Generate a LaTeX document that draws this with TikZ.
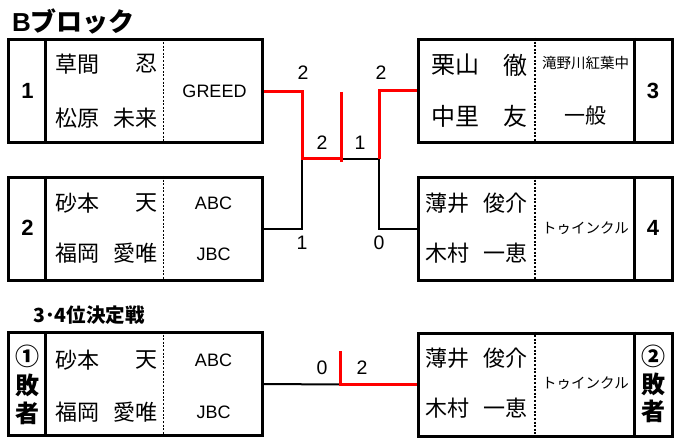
\documentclass[tikz,border=0pt]{standalone}
\usepackage{fontspec}
\setmainfont{Liberation Sans}
\newfontfamily\jp{Noto Sans CJK JP}
\begin{document}
\begin{tikzpicture}[x=1pt,y=-1pt,
  box/.style={draw, line width=3pt, minimum width=254pt, minimum height=103pt, inner sep=0pt},
  sepline/.style={line width=3pt},
  dotline/.style={line width=1.3pt, dash pattern=on 2pt off 1.6pt},
  nm/.style={inner sep=0pt, font=\jp\fontsize{22}{22}\selectfont},
  nmbig/.style={inner sep=0pt, font=\jp\fontsize{24}{24}\selectfont},
  tm/.style={inner sep=0pt, font=\fontsize{18}{18}\selectfont},
  tmjp/.style={inner sep=0pt, font=\jp\fontsize{14.5}{14.5}\selectfont},
  num/.style={inner sep=0pt, font=\bfseries\fontsize{22}{22}\selectfont},
  loser/.style={inner sep=0pt, font=\jp\bfseries\fontsize{24}{24}\selectfont},
  score/.style={inner sep=0pt, font=\fontsize{19.5}{19.5}\selectfont},
  win/.style={draw=red, line width=3pt},
  lose/.style={draw=black, line width=2pt}]
\useasboundingbox (0,0) rectangle (682,438);
\fill[white] (0,0) rectangle (682,438);

% titles
\node[anchor=west, inner sep=0pt, font=\bfseries\fontsize{26}{26}\selectfont] (title) at (12,21) {B{\jp\bfseries ブロック}};
\node[anchor=west, inner sep=0pt, font=\jp\bfseries\fontsize{19.5}{19.5}\selectfont] (title2) at (33,315) {3･4位決定戦};

% boxes
\node[box] (b1) at (135,91.5) {};
\node[box] (b2) at (135,229) {};
\node[box] (b3) at (545.5,91) {};
\node[box] (b4) at (545.5,229) {};
\node[box] (b5) at (135,384) {};
\node[box] (b6) at (545.5,384.5) {};

% dividers
\foreach \b in {b1,b2,b5}{
  \draw[sepline] (\b.north west) ++(39,0) coordinate (\b sa) -- (\b.south west -| \b sa);
  \draw[dotline] (\b.north west) ++(157,0) coordinate (\b sb) -- (\b.south west -| \b sb);
}
\foreach \b in {b3,b4,b6}{
  \draw[sepline] (\b.north east) ++(-40,0) coordinate (\b sa) -- (\b.south east -| \b sa);
  \draw[dotline] (\b.north west) ++(118,0) coordinate (\b sb) -- (\b.south west -| \b sb);
}

% box 1
\node[num] (k1) at (27.5,91) {1};
\node[nm, anchor=west] (n1a) at (55,64) {草間};
\node[nm, anchor=east] (n1b) at (158,64) {忍};
\node[nm, anchor=west] (n1c) at (55,118) {松原};
\node[nm, anchor=east] (n1d) at (158,118) {未来};
\node[tm] (t1) at (214.5,91) {GREED};

% box 2
\node[num] (k2) at (27.5,228) {2};
\node[nm, anchor=west] (n2a) at (55,203) {砂本};
\node[nm, anchor=east] (n2b) at (158,203) {天};
\node[nm, anchor=west] (n2c) at (55,253) {福岡};
\node[nm, anchor=east] (n2d) at (158,253) {愛唯};
\node[tm] (t2a) at (213.5,203) {ABC};
\node[tm] (t2b) at (213.5,254) {JBC};

% box 3
\node[num] (k3) at (653,91) {3};
\node[nmbig, anchor=west] (n3a) at (431,65) {栗山};
\node[nmbig, anchor=east] (n3b) at (528,65) {徹};
\node[nmbig, anchor=west] (n3c) at (431,116) {中里};
\node[nmbig, anchor=east] (n3d) at (528,116) {友};
\node[tmjp] (t3a) at (585.5,63) {滝野川紅葉中};
\node[nm, font=\jp\fontsize{21}{21}\selectfont] (t3b) at (585.5,116) {一般};

% box 4
\node[num] (k4) at (653,228) {4};
\node[nm, anchor=west] (n4a) at (425,203) {薄井};
\node[nm, anchor=east] (n4b) at (528,203) {俊介};
\node[nm, anchor=west] (n4c) at (425,253) {木村};
\node[nm, anchor=east] (n4d) at (528,253) {一恵};
\node[tmjp] (t4) at (585.5,228) {トゥインクル};

% box 5
\node[loser] (l5a) at (27.5,356) {①};
\node[loser] (l5b) at (27.5,385) {敗};
\node[loser] (l5c) at (27.5,413) {者};
\node[nm, anchor=west] (n5a) at (55,360) {砂本};
\node[nm, anchor=east] (n5b) at (158,360) {天};
\node[nm, anchor=west] (n5c) at (55,412) {福岡};
\node[nm, anchor=east] (n5d) at (158,412) {愛唯};
\node[tm] (t5a) at (213.5,360) {ABC};
\node[tm] (t5b) at (213.5,412) {JBC};

% box 6
\node[loser] (l6a) at (653,356) {②};
\node[loser] (l6b) at (653,384) {敗};
\node[loser] (l6c) at (653,411) {者};
\node[nm, anchor=west] (n6a) at (425,358) {薄井};
\node[nm, anchor=east] (n6b) at (528,358) {俊介};
\node[nm, anchor=west] (n6c) at (425,408) {木村};
\node[nm, anchor=east] (n6d) at (528,408) {一恵};
\node[tmjp] (t6) at (585.5,383) {トゥインクル};

% bracket coordinates
\coordinate (c1) at (302,91.5);
\coordinate (c2) at (302,159);
\coordinate (cm) at (341,159);
\coordinate (ctop) at (341,92);
\coordinate (cmb) at (341,162);
\coordinate (c3) at (379,159);
\coordinate (c3t) at (379,91);
\coordinate (c4) at (379,229);
\coordinate (c2b) at (302,229);

% losing paths
\draw[lose] (c2) -- (c2b) -- (b2.east);
\draw[lose] (c3) -- (c4) -- (b4.west);
\draw[lose] (cm) -- (c3);
% winning paths
\draw[win] (b1.east) -- (c1) -- (c2) -- (cm);
\draw[win] (ctop) -- (cmb);
\draw[win] (c3) -- (c3t) -- (b3.west);

% scores
\node[score] (s1) at (303,73) {2};
\node[score] (s2) at (381,73) {2};
\node[score] (s3) at (322,143) {2};
\node[score] (s4) at (360,143) {1};
\node[score] (s5) at (302,243) {1};
\node[score] (s6) at (379,243) {0};

% third place
\coordinate (d1) at (340,384.5);
\coordinate (d1t) at (340,351);
\draw[lose] (b5.east) -- (d1);
\draw[win] (d1t) -- (d1) -- (b6.west);
\node[score] (s7) at (322,368) {0};
\node[score] (s8) at (362,368) {2};
\end{tikzpicture}
\end{document}
